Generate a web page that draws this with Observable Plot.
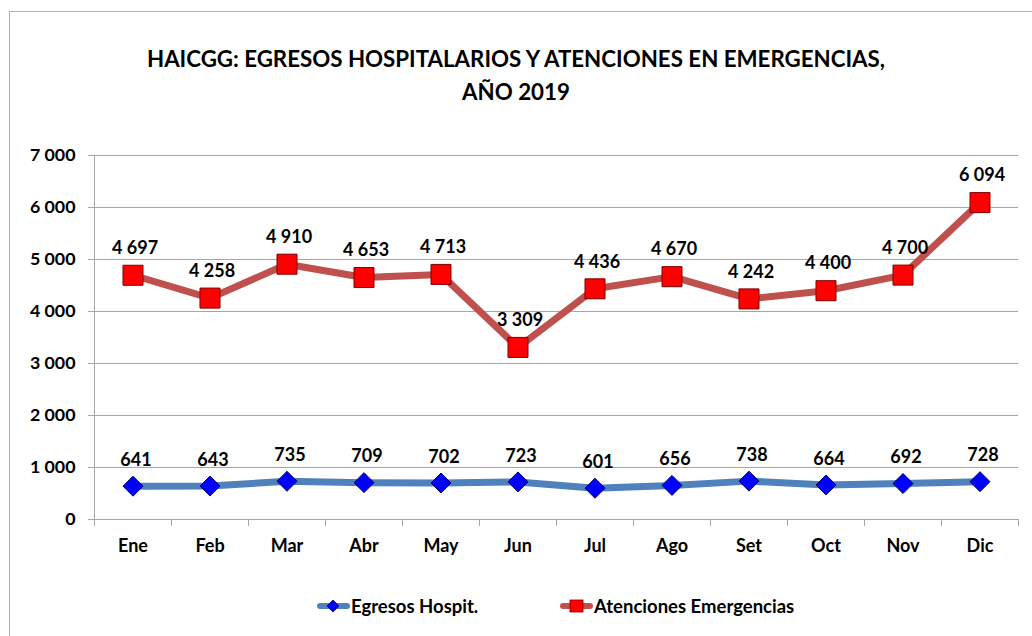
<!DOCTYPE html>
<html>
<head>
<meta charset="utf-8">
<script src="https://cdn.jsdelivr.net/npm/d3@7"></script>
<script src="https://cdn.jsdelivr.net/npm/@observablehq/plot@0.6"></script>
<style>
  html, body { margin: 0; padding: 0; background: #fff; }
  #wrap { position: relative; width: 1032px; height: 636px; overflow: hidden; font-family: Lato, "Open Sans", sans-serif; color: #000; }
  #border { position: absolute; left: 9px; top: 11px; width: 1100px; height: 700px; border: 1px solid #b0b0b0; }
  #title { position: absolute; left: 0; top: 42px; width: 1032px; text-align: center; font-weight: bold; font-size: 22.3px; line-height: 33px; }
  #chart { position: absolute; left: 0; top: 130px; }
  #chart svg text { font-weight: bold; }
  .leg { position: absolute; top: 595px; display: flex; align-items: center; font-weight: bold; font-size: 18.5px; }
  .leg svg { display: block; }
</style>
</head>
<body>
<div id="wrap">
  <div id="border"></div>
  <div id="title">HAICGG: EGRESOS HOSPITALARIOS Y ATENCIONES EN EMERGENCIAS,<br>AÑO 2019</div>
  <div id="chart"></div>
  <div class="leg" style="left:316px">
    <svg width="35" height="20"><line x1="4" y1="10" x2="31" y2="10" stroke="#4f81bd" stroke-width="6" stroke-linecap="round"/><path d="M17,4 L23,10 L17,16 L11,10 Z" fill="#0000ff" stroke="#000066" stroke-width="0.8"/></svg>
    <span>Egresos Hospit.</span>
  </div>
  <div class="leg" style="left:559px">
    <svg width="35" height="20"><line x1="4" y1="10" x2="31" y2="10" stroke="#c0504d" stroke-width="6" stroke-linecap="round"/><rect x="11" y="4" width="13" height="12" fill="#ff0000" stroke="#7f0000" stroke-width="0.8"/></svg>
    <span>Atenciones Emergencias</span>
  </div>
</div>
<script>
const months = ["Ene","Feb","Mar","Abr","May","Jun","Jul","Ago","Set","Oct","Nov","Dic"];
const egresos = [641,643,735,709,702,723,601,656,738,664,692,728];
const atenciones = [4697,4258,4910,4653,4713,3309,4436,4670,4242,4400,4700,6094];
const yTicks = [0,1000,2000,3000,4000,5000,6000,7000];

const fmt = v => d3.format(",")(v).replace(/,/g, " ");
const rows = months.map((m, i) => ({pos: i + 0.5, month: m, egresos: egresos[i], atenciones: atenciones[i]}));
const centers = rows.map(r => r.pos);
const bounds = d3.range(months.length + 1);
const grid = "#a6a6a6";

const chart = Plot.plot({
  width: 1032,
  height: 430,
  marginLeft: 94,
  marginRight: 14,
  marginTop: 25,
  marginBottom: 41,
  style: {fontFamily: "Lato, 'Open Sans', sans-serif", color: "#000", background: "transparent"},
  x: {domain: [0, months.length], axis: null},
  y: {domain: [0, 7000], axis: null},
  marks: [
    Plot.ruleY(yTicks, {stroke: grid, strokeWidth: 1, insetLeft: -6}),
    Plot.ruleX([0], {stroke: grid, strokeWidth: 1}),
    Plot.axisY({ticks: yTicks, tickSize: 0, tickPadding: 19, tickFormat: fmt, fontSize: 17.8, fontWeight: "bold", label: null}),
    Plot.axisX({ticks: bounds, tickSize: 7, tickFormat: () => "", stroke: grid, label: null}),
    Plot.axisX({ticks: centers, tickSize: 0, tickPadding: 20, tickFormat: d => months[Math.floor(d)], fontSize: 18, fontWeight: "bold", label: null}),
    Plot.line(rows, {x: "pos", y: "atenciones", stroke: "#c0504d", strokeWidth: 7, strokeLinejoin: "round"}),
    Plot.line(rows, {x: "pos", y: "egresos", stroke: "#4f81bd", strokeWidth: 7, strokeLinejoin: "round"}),
    Plot.dot(rows, {x: "pos", y: "atenciones", symbol: "square", r: 11.3, fill: "#ff0000", stroke: "#7f0000", strokeWidth: 1}),
    Plot.dot(rows, {x: "pos", y: "egresos", symbol: "diamond2", r: 9, fill: "#0000ff", stroke: "#000066", strokeWidth: 1}),
    Plot.text(rows, {x: "pos", y: "atenciones", text: d => fmt(d.atenciones), dy: -27, dx: 2, fontSize: 18, fontWeight: "bold", fill: "#000"}),
    Plot.text(rows, {x: "pos", y: "egresos", text: d => fmt(d.egresos), dy: -26, dx: 3, fontSize: 18, fontWeight: "bold", fill: "#000"})
  ]
});
document.getElementById("chart").appendChild(chart);
</script>
</body>
</html>
